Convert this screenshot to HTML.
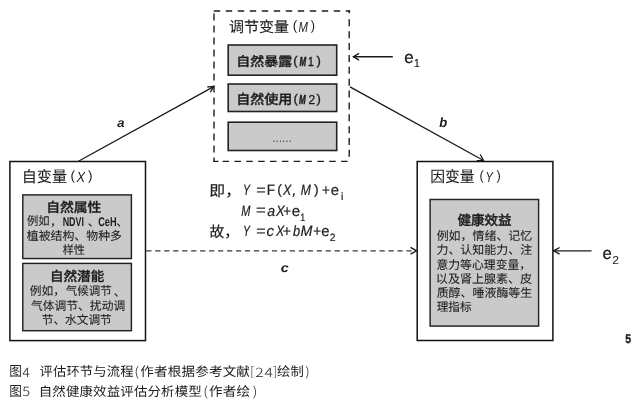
<!DOCTYPE html>
<html lang="zh">
<head>
<meta charset="utf-8">
<title>图5 自然健康效益评估分析模型</title>
<style>
html,body{margin:0;padding:0;background:#fff;}
body{width:636px;height:400px;overflow:hidden;position:relative;}
svg{position:absolute;left:0;top:0;display:block;will-change:transform;}
text{fill:#1c1c1c;white-space:pre;text-rendering:geometricPrecision;}
.c{font-family:"Noto Sans CJK SC","Liberation Sans",sans-serif;}
.l{font-family:"Liberation Sans","Noto Sans CJK SC",sans-serif;}
.box{fill:#fff;stroke:#111;stroke-width:1.5;}
.g{fill:#cbcaca;stroke:#222;stroke-width:1.6;}
.ln{stroke:#1a1a1a;stroke-width:1.35;fill:none;}
.ds{stroke:#1e1e1e;stroke-width:1.4;fill:none;}
</style>
</head>
<body>
<svg width="636" height="400" viewBox="0 0 636 400">
<rect x="0" y="0" width="636" height="400" fill="#fff"/>
<!-- X box -->
<rect class="box" x="9.9" y="161.5" width="135.6" height="179.1"/>
<rect class="g" x="22.8" y="194.9" width="108.6" height="63.65" style="stroke-width:1.45"/>
<rect class="g" x="22.8" y="263.4" width="108.6" height="67.3" style="stroke-width:1.45"/>
<!-- M box (dashed) -->
<path class="ds" d="M213.8 11 H350.2" stroke-dasharray="6.4 5.6"/>
<path class="ds" d="M214 13.5 V162" stroke-dasharray="7 5"/>
<path class="ds" d="M349.2 10.3 V13.2 M349.2 19.3 V157.4" stroke-dasharray="7 4.87"/>
<path class="ds" d="M213.3 161.4 H218.4 M222.6 161.4 H348.2" stroke-dasharray="6.5 5.35"/>
<rect class="g" x="228.2" y="45" width="108.5" height="30.2"/>
<rect class="g" x="228.2" y="84" width="108.5" height="27.5"/>
<rect class="g" x="228.2" y="122.2" width="108.5" height="28.3"/>
<!-- Y box -->
<rect class="box" x="417.2" y="161.5" width="135.7" height="179"/>
<rect class="g" x="430.1" y="199.5" width="108.5" height="126.6" style="stroke-width:1.45"/>
<!-- arrows -->
<path class="ln" d="M78 161.5 L213.7 86.6"/>
<path class="ln" d="M207.2 86.9 L213.7 86.6 L210.4 92.1"/>
<path class="ln" d="M350 86.8 L483.5 160.5"/>
<path class="ln" d="M476.8 160.6 L483.5 160.5 L480.3 154.5"/>
<path class="ln" d="M392.8 56.7 H353.4"/>
<path class="ln" d="M359 53.3 L353.4 56.7 L359 60.1"/>
<path class="ln" d="M591.5 250.8 H553.6"/>
<path class="ln" d="M559.6 247.5 L553.6 250.8 L559.6 254.1"/>
<path d="M146.3 250.9 H413" stroke="#383838" stroke-width="1.35" fill="none" stroke-dasharray="5.2 3.77"/>
<path class="ln" d="M410.5 247.4 L416.6 250.8 L410.5 254.2"/>

<text class="c" transform="matrix(1.0234 0 0 1.035 21.73 182.36)" style="font-size:14.8px;stroke:#1c1c1c;stroke-width:0.1px">自变量</text>
<text class="l" transform="matrix(1.0083 0 0 1.0022 70.47 180.26)" style="font-size:13.4px">(</text>
<text class="l" transform="matrix(0.886 0 0 1 76.5 181.9)" style="font-size:14.6px;font-style:italic">X</text>
<text class="l" transform="matrix(1.0083 0 0 1.0022 88.1 180.26)" style="font-size:13.4px">)</text>
<text class="c" transform="matrix(1.0161 0 0 0.972 46.16 211.76)" style="font-size:13.6px;font-weight:500;stroke:#1c1c1c;stroke-width:0.35px">自然属性</text>
<text class="c" transform="matrix(0.9522 0 0 1 27.05 225.28)" style="font-size:11.9px;stroke:#1c1c1c;stroke-width:0.08px">例如</text>
<text class="c" x="50.11" y="225.7" style="font-size:11.9px;stroke:#1c1c1c;stroke-width:0.08px">，</text>
<text class="l" transform="matrix(0.707 0 0 1 62.64 225.8)" style="font-size:12.6px;font-weight:700">NDVI</text>
<text class="c" x="87.64" y="225.86" style="font-size:11.9px;stroke:#1c1c1c;stroke-width:0.08px">、</text>
<text class="l" transform="matrix(0.7297 0 0 1 98.21 225.8)" style="font-size:12.6px;font-weight:700">CeH</text>
<text class="c" x="116.34" y="225.86" style="font-size:11.9px;stroke:#1c1c1c;stroke-width:0.08px">、</text>
<text class="c" x="26.81" y="239.88" style="font-size:11.9px;stroke:#1c1c1c;stroke-width:0.08px">植被结构、物种多</text>
<text class="c" transform="matrix(0.9368 0 0 1 62.63 254.38)" style="font-size:11.9px;stroke:#1c1c1c;stroke-width:0.08px">样性</text>
<text class="c" transform="matrix(1.0005 0 0 0.972 49.89 280.96)" style="font-size:13.6px;font-weight:500;stroke:#1c1c1c;stroke-width:0.35px">自然潜能</text>
<text class="c" transform="matrix(0.9875 0 0 1 29.83 295.18)" style="font-size:11.9px;stroke:#1c1c1c;stroke-width:0.08px">例如，</text>
<text class="c" transform="matrix(0.9668 0 0 1 65.72 295.18)" style="font-size:11.9px;stroke:#1c1c1c;stroke-width:0.08px">气候调节</text>
<text class="c" x="113.84" y="295.76" style="font-size:11.9px;stroke:#1c1c1c;stroke-width:0.08px">、</text>
<text class="c" transform="matrix(0.9897 0 0 1 31.02 309.68)" style="font-size:11.9px;stroke:#1c1c1c;stroke-width:0.08px">气体调节、扰动调</text>
<text class="c" transform="matrix(0.9817 0 0 1 41.75 324.08)" style="font-size:11.9px;stroke:#1c1c1c;stroke-width:0.08px">节、水文调节</text>
<text class="c" transform="matrix(1.0176 0 0 0.9925 228.93 31.72)" style="font-size:14.8px;stroke:#1c1c1c;stroke-width:0.1px">调节变量</text>
<text class="l" transform="matrix(1.0083 0 0 1.0179 292.77 30.02)" style="font-size:13.4px">(</text>
<text class="l" transform="matrix(0.7775 0 0 1 298.62 31.9)" style="font-size:14.6px;font-style:italic">M</text>
<text class="l" transform="matrix(0.9552 0 0 1.0179 310.7 30.02)" style="font-size:13.4px">)</text>
<text class="c" transform="matrix(1.0292 0 0 0.9489 236.23 66.19)" style="font-size:13.6px;font-weight:500;stroke:#1c1c1c;stroke-width:0.35px">自然暴露</text>
<text class="l" transform="matrix(1.0441 0 0 0.9992 293.28 64.85)" style="font-size:12.6px;stroke:#1c1c1c;stroke-width:0.3px">(</text>
<text class="l" transform="matrix(0.6108 0 0 1 299.38 66.3)" style="font-size:13px;font-weight:700;font-style:italic;stroke:#1c1c1c;stroke-width:0.5px">M</text>
<text class="l" transform="matrix(0.8 0 0 1 307.99 66.3)" style="font-size:13px;stroke:#1c1c1c;stroke-width:0.4px">1</text>
<text class="l" transform="matrix(1.0441 0 0 0.9992 316.5 64.85)" style="font-size:12.6px;stroke:#1c1c1c;stroke-width:0.3px">)</text>
<text class="c" transform="matrix(1.031 0 0 0.9797 236.23 104.25)" style="font-size:13.6px;font-weight:500;stroke:#1c1c1c;stroke-width:0.35px">自然使用</text>
<text class="l" transform="matrix(1.0441 0 0 0.9992 293.38 102.85)" style="font-size:12.6px;stroke:#1c1c1c;stroke-width:0.3px">(</text>
<text class="l" transform="matrix(0.6199 0 0 1 299.07 104.4)" style="font-size:13px;font-weight:700;font-style:italic;stroke:#1c1c1c;stroke-width:0.5px">M</text>
<text class="l" transform="matrix(0.919 0 0 1 308.44 104.4)" style="font-size:13px;stroke:#1c1c1c;stroke-width:0.3px">2</text>
<text class="l" transform="matrix(1.0441 0 0 0.9992 316.6 102.85)" style="font-size:12.6px;stroke:#1c1c1c;stroke-width:0.3px">)</text>
<text class="c" transform="matrix(0.8299 0 0 0.8366 272.17 144.61)" style="font-size:11.9px;fill:#333">……</text>
<text class="c" transform="matrix(1.0004 0 0 1.035 430.24 182.36)" style="font-size:14.8px;stroke:#1c1c1c;stroke-width:0.1px">因变量</text>
<text class="l" transform="matrix(0.9552 0 0 1.0022 479.6 180.26)" style="font-size:13.4px">(</text>
<text class="l" transform="matrix(0.7698 0 0 1 485.55 181.9)" style="font-size:14.6px;font-style:italic">Y</text>
<text class="l" transform="matrix(0.9552 0 0 1.0022 496.4 180.26)" style="font-size:13.4px">)</text>
<text class="c" transform="matrix(0.9933 0 0 0.9875 457.49 225.44)" style="font-size:13.6px;font-weight:500;stroke:#1c1c1c;stroke-width:0.35px">健康效益</text>
<text class="c" transform="matrix(1.0056 0 0 1 436.63 239.8)" style="font-size:11.9px;stroke:#1c1c1c;stroke-width:0.08px">例如，情绪、记忆</text>
<text class="c" transform="matrix(1.0056 0 0 1 436.44 254.28)" style="font-size:11.9px;stroke:#1c1c1c;stroke-width:0.08px">力、认知能力、注</text>
<text class="c" transform="matrix(0.9955 0 0 1 436.44 268.88)" style="font-size:11.9px;stroke:#1c1c1c;stroke-width:0.08px">意力等心理变量，</text>
<text class="c" transform="matrix(1.0116 0 0 1 435.87 283.08)" style="font-size:11.9px;stroke:#1c1c1c;stroke-width:0.08px">以及肾上腺素、皮</text>
<text class="c" transform="matrix(1.0056 0 0 1 436.63 297.28)" style="font-size:11.9px;stroke:#1c1c1c;stroke-width:0.08px">质醇、唾液酶等生</text>
<text class="c" transform="matrix(0.9784 0 0 1 436.64 311.38)" style="font-size:11.9px;stroke:#1c1c1c;stroke-width:0.08px">理指标</text>
<text class="l" transform="matrix(1.0227 0 0 1 117.3 126.7)" style="font-size:12.7px;font-weight:700;font-style:italic">a</text>
<text class="l" transform="matrix(0.961 0 0 1 439.3 126.7)" style="font-size:13.5px;font-weight:700;font-style:italic">b</text>
<text class="l" transform="matrix(1.1264 0 0 1 280.78 272)" style="font-size:12.7px;font-weight:700;font-style:italic">c</text>
<text class="l" transform="matrix(0.9958 0 0 1 404.27 62.6)" style="font-size:17px;stroke:#1c1c1c;stroke-width:0.3px">e</text>
<text class="l" transform="matrix(0.9 0 0 1 413.91 67)" style="font-size:11.5px;stroke:#1c1c1c;stroke-width:0.2px">1</text>
<text class="l" transform="matrix(0.9837 0 0 1 602.38 258.9)" style="font-size:17px;stroke:#1c1c1c;stroke-width:0.3px">e</text>
<text class="l" transform="matrix(1.0574 0 0 1 612.33 264.2)" style="font-size:11.5px">2</text>
<text class="l" transform="matrix(0.8466 0 0 1 625.33 342.7)" style="font-size:12.6px;font-weight:700;stroke:#1c1c1c;stroke-width:0.3px">5</text>
<text class="c" transform="matrix(1.0693 0 0 1.0014 209.31 195.51)" style="font-size:14.8px;stroke:#1c1c1c;stroke-width:0.2px">即，</text>
<text class="l" transform="matrix(0.6972 0 0 1 242.92 195.1)" style="font-size:15px;font-style:italic;stroke:#1c1c1c;stroke-width:0.2px">Y</text>
<text class="l" transform="matrix(1.08 0 0 1 256.34 195.1)" style="font-size:15px;stroke:#1c1c1c;stroke-width:0.2px">=</text>
<text class="l" transform="matrix(0.9067 0 0 1 266.84 195.1)" style="font-size:15px;stroke:#1c1c1c;stroke-width:0.2px">F</text>
<text class="l" transform="matrix(1.0196 0 0 0.9952 277.35 194.04)" style="font-size:13.6px;stroke:#1c1c1c;stroke-width:0.2px">(</text>
<text class="l" transform="matrix(0.8261 0 0 1 282.89 195.1)" style="font-size:15px;font-style:italic;stroke:#1c1c1c;stroke-width:0.2px">X</text>
<text class="l" x="292.17" y="195.1" style="font-size:15px;font-style:italic;stroke:#1c1c1c;stroke-width:0.2px">,</text>
<text class="l" transform="matrix(0.805 0 0 1 300.81 195.1)" style="font-size:15px;font-style:italic;stroke:#1c1c1c;stroke-width:0.2px">M</text>
<text class="l" transform="matrix(1.0196 0 0 0.9952 314 194.04)" style="font-size:13.6px;stroke:#1c1c1c;stroke-width:0.2px">)</text>
<text class="l" transform="matrix(0.8933 0 0 1 322.07 195.1)" style="font-size:15px;stroke:#1c1c1c;stroke-width:0.2px">+</text>
<text class="l" transform="matrix(0.991 0 0 1 330.74 195.3)" style="font-size:15px;stroke:#1c1c1c;stroke-width:0.2px">e</text>
<text class="l" x="340.94" y="199.7" style="font-size:10.6px;stroke:#1c1c1c;stroke-width:0.2px">i</text>
<text class="l" transform="matrix(0.7326 0 0 1 241.33 215.9)" style="font-size:15px;font-style:italic;stroke:#1c1c1c;stroke-width:0.2px">M</text>
<text class="l" transform="matrix(1.12 0 0 1 256.11 215.3)" style="font-size:15px;stroke:#1c1c1c;stroke-width:0.2px">=</text>
<text class="l" transform="matrix(0.9438 0 0 1 267.18 215.9)" style="font-size:15px;font-style:italic;stroke:#1c1c1c;stroke-width:0.2px">a</text>
<text class="l" transform="matrix(0.8624 0 0 1 276 215.9)" style="font-size:15px;font-style:italic;stroke:#1c1c1c;stroke-width:0.2px">X</text>
<text class="l" transform="matrix(0.8933 0 0 1 283.27 215.9)" style="font-size:15px;stroke:#1c1c1c;stroke-width:0.2px">+</text>
<text class="l" transform="matrix(1.0047 0 0 1 291.63 216.1)" style="font-size:15px;stroke:#1c1c1c;stroke-width:0.2px">e</text>
<text class="l" transform="matrix(0.85 0 0 1 300.15 220.8)" style="font-size:10.6px;stroke:#1c1c1c;stroke-width:0.2px">1</text>
<text class="c" x="209.54" y="236.91" style="font-size:14.8px;stroke:#1c1c1c;stroke-width:0.2px">故，</text>
<text class="l" transform="matrix(0.6972 0 0 1 242.92 236)" style="font-size:15px;font-style:italic;stroke:#1c1c1c;stroke-width:0.2px">Y</text>
<text class="l" transform="matrix(1.08 0 0 1 256.34 236)" style="font-size:15px;stroke:#1c1c1c;stroke-width:0.2px">=</text>
<text class="l" transform="matrix(1.0098 0 0 1 266.53 236)" style="font-size:15px;font-style:italic;stroke:#1c1c1c;stroke-width:0.2px">c</text>
<text class="l" transform="matrix(0.817 0 0 1 275.88 236)" style="font-size:15px;font-style:italic;stroke:#1c1c1c;stroke-width:0.2px">X</text>
<text class="l" transform="matrix(0.9467 0 0 1 282.83 236)" style="font-size:15px;stroke:#1c1c1c;stroke-width:0.2px">+</text>
<text class="l" transform="matrix(0.8533 0 0 1 293 236)" style="font-size:15px;font-style:italic;stroke:#1c1c1c;stroke-width:0.2px">b</text>
<text class="l" transform="matrix(0.9499 0 0 1 300.38 236)" style="font-size:15px;font-style:italic;stroke:#1c1c1c;stroke-width:0.2px">M</text>
<text class="l" transform="matrix(0.8933 0 0 1 313.17 236)" style="font-size:15px;stroke:#1c1c1c;stroke-width:0.2px">+</text>
<text class="l" transform="matrix(0.991 0 0 1 321.34 236.2)" style="font-size:15px;stroke:#1c1c1c;stroke-width:0.2px">e</text>
<text class="l" transform="matrix(0.9862 0 0 1 329.81 240.7)" style="font-size:10.6px;stroke:#1c1c1c;stroke-width:0.2px">2</text>
<text class="c" transform="matrix(0.9535 0 0 1.0299 9.31 376.32)" style="font-size:13.3px;fill:#1c1c1c">图</text>
<text class="c" transform="matrix(1.127 0 0 1 22.18 376.6)" style="font-size:12.6px;font-weight:300;fill:#1c1c1c">4</text>
<text class="c" transform="matrix(1.0009 0 0 0.9784 39.48 376.38)" style="font-size:13.3px;fill:#1c1c1c;letter-spacing:0.15px">评估环节与流程</text>
<text class="c" transform="matrix(1.2275 0 0 1 134.35 376.4)" style="font-size:12.6px;font-weight:300;fill:#1c1c1c">(</text>
<text class="c" transform="matrix(1.0219 0 0 0.9624 140.18 376.4)" style="font-size:13.3px;fill:#1c1c1c;letter-spacing:0.15px">作者根据参考文献</text>
<text class="c" transform="matrix(0.9768 0 0 1 250.15 376.4)" style="font-size:12.6px;font-weight:300;fill:#1c1c1c">[</text>
<text class="c" transform="matrix(1.2457 0 0 1 255.21 376.6)" style="font-size:12.6px;font-weight:300;fill:#1c1c1c;letter-spacing:0.8px">24</text>
<text class="c" transform="matrix(0.9768 0 0 1 273.01 376.4)" style="font-size:12.6px;font-weight:300;fill:#1c1c1c">]</text>
<text class="c" transform="matrix(1.0018 0 0 0.9784 276.98 376.38)" style="font-size:13.3px;fill:#1c1c1c;letter-spacing:0.15px">绘制</text>
<text class="c" transform="matrix(1.1331 0 0 1 305.25 376.4)" style="font-size:12.6px;font-weight:300;fill:#1c1c1c">)</text>
<text class="c" transform="matrix(0.9535 0 0 1.0299 9.31 395.82)" style="font-size:13.3px;fill:#1c1c1c">图</text>
<text class="c" transform="matrix(1.1683 0 0 1 22.37 396.1)" style="font-size:12.6px;font-weight:300;fill:#1c1c1c">5</text>
<text class="c" transform="matrix(1.0114 0 0 0.9624 38.7 395.9)" style="font-size:13.3px;fill:#1c1c1c;letter-spacing:0.15px">自然健康效益评估分析模型</text>
<text class="c" transform="matrix(1.1852 0 0 1 203.3 395.9)" style="font-size:12.6px;font-weight:300;fill:#1c1c1c">(</text>
<text class="c" transform="matrix(1.0199 0 0 0.9784 208.98 395.88)" style="font-size:13.3px;fill:#1c1c1c;letter-spacing:0.15px">作者绘</text>
<text class="c" transform="matrix(1.1722 0 0 1 252.74 395.9)" style="font-size:12.6px;font-weight:300;fill:#1c1c1c">)</text>
</svg>
</body>
</html>
